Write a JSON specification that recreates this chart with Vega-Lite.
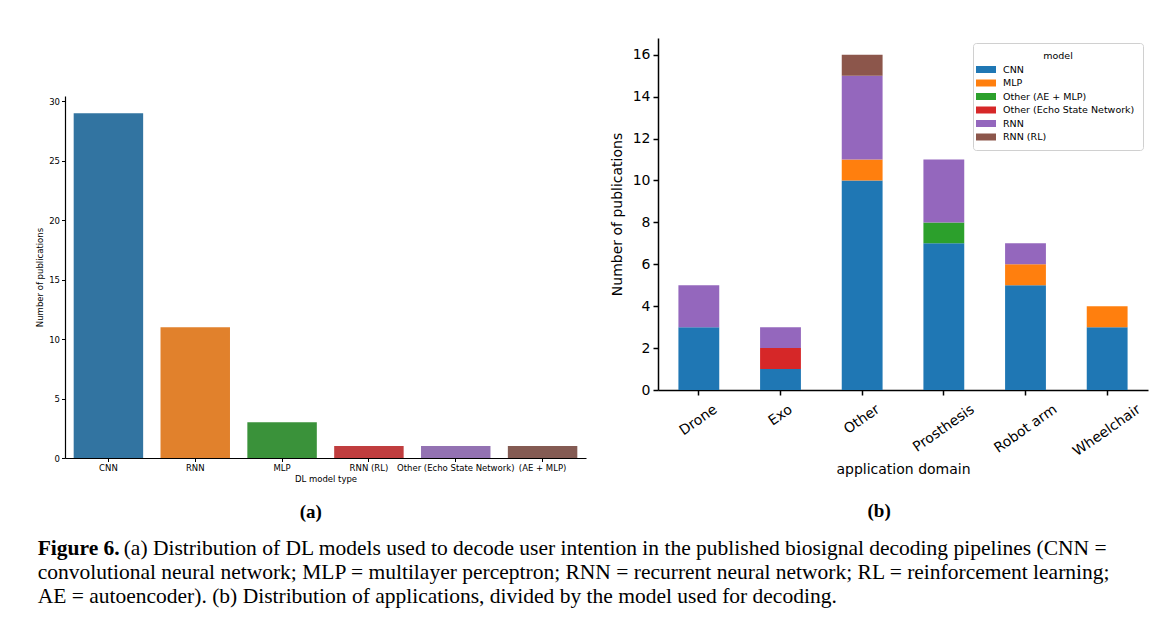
{
  "$schema": "https://vega.github.io/schema/vega-lite/v6.json",
  "background": "white",
  "padding": {"left": 35, "top": 38, "right": 5, "bottom": 5},
  "title": {
    "text": "Figure 6.",
    "subtitle": [
      "\u200b\u00a0\u00a0\u00a0\u00a0\u00a0\u00a0\u00a0\u00a0\u00a0\u00a0\u00a0\u00a0\u00a0\u00a0\u00a0\u00a0(a) Distribution of DL models used to decode user intention in the published biosignal decoding pipelines (CNN =",
      "convolutional neural network; MLP = multilayer perceptron; RNN = recurrent neural network; RL = reinforcement learning;",
      "AE = autoencoder). (b) Distribution of applications, divided by the model used for decoding."
    ],
    "orient": "bottom",
    "anchor": "start",
    "frame": "bounds",
    "font": "Liberation Serif",
    "fontSize": 21.5,
    "fontWeight": "bold",
    "color": "black",
    "subtitleFont": "Liberation Serif",
    "subtitleFontSize": 21.5,
    "subtitleFontWeight": "normal",
    "subtitleColor": "black",
    "subtitleLineHeight": 24,
    "subtitlePadding": -21.5,
    "offset": 16,
    "dx": 2
  },
  "spacing": 24,
  "resolve": {"scale": {"color": "independent"}, "legend": {"color": "independent"}},
  "hconcat": [
    {
      "title": {"text": "(a)", "orient": "bottom", "anchor": "middle", "frame": "bounds", "font": "Liberation Serif", "fontSize": 19, "fontWeight": "bold", "color": "black", "offset": 20},
      "spacing": 0,
      "vconcat": [
        {
          "width": 521,
          "height": 58,
          "data": {"values": []},
          "mark": {"type": "point", "opacity": 0}
        },
        {
          "width": 521,
          "height": 362,
          "data": {"values": [
            {"model": "CNN", "count": 29},
            {"model": "RNN", "count": 11},
            {"model": "MLP", "count": 3},
            {"model": "RNN (RL)", "count": 1},
            {"model": "Other (Echo State Network)", "count": 1},
            {"model": "(AE + MLP)", "count": 1}
          ]},
          "mark": {"type": "bar"},
          "encoding": {
            "x": {
              "field": "model", "type": "nominal", "sort": null,
              "scale": {"paddingInner": 0.2, "paddingOuter": 0.1},
              "axis": {"title": "DL model type", "labelAngle": 0, "labelFontSize": 8.5, "titleFontSize": 8.5, "labelOverlap": false, "labelBound": false, "labelLimit": 0, "tickSize": 3.5, "tickWidth": 1, "domainWidth": 1.2, "labelPadding": 2, "titlePadding": 2}
            },
            "y": {
              "field": "count", "type": "quantitative",
              "scale": {"domain": [0, 30.45], "nice": false},
              "axis": {"title": "Number of publications", "values": [0, 5, 10, 15, 20, 25, 30], "labelFontSize": 8.5, "titleFontSize": 8.5, "tickSize": 3.5, "tickWidth": 1, "domainWidth": 1.2, "labelPadding": 2, "titlePadding": 4}
            },
            "color": {
              "field": "model", "type": "nominal", "sort": null,
              "scale": {"domain": ["CNN", "RNN", "MLP", "RNN (RL)", "Other (Echo State Network)", "(AE + MLP)"],
                        "range": ["#3274a1", "#e1812c", "#3a923a", "#c03d3e", "#9372b2", "#845b53"]},
              "legend": null
            }
          }
        }
      ]
    },
    {
      "title": {"text": "(b)", "orient": "bottom", "anchor": "middle", "frame": "bounds", "font": "Liberation Serif", "fontSize": 19, "fontWeight": "bold", "color": "black", "offset": 25},
      "width": 490,
      "height": 352,
      "data": {"values": [
        {"domain": "Drone", "model": "CNN", "count": 3},
        {"domain": "Drone", "model": "RNN", "count": 2},
        {"domain": "Exo", "model": "CNN", "count": 1},
        {"domain": "Exo", "model": "Other (Echo State Network)", "count": 1},
        {"domain": "Exo", "model": "RNN", "count": 1},
        {"domain": "Other", "model": "CNN", "count": 10},
        {"domain": "Other", "model": "MLP", "count": 1},
        {"domain": "Other", "model": "RNN", "count": 4},
        {"domain": "Other", "model": "RNN (RL)", "count": 1},
        {"domain": "Prosthesis", "model": "CNN", "count": 7},
        {"domain": "Prosthesis", "model": "Other (AE + MLP)", "count": 1},
        {"domain": "Prosthesis", "model": "RNN", "count": 3},
        {"domain": "Robot arm", "model": "CNN", "count": 5},
        {"domain": "Robot arm", "model": "MLP", "count": 1},
        {"domain": "Robot arm", "model": "RNN", "count": 1},
        {"domain": "Wheelchair", "model": "CNN", "count": 3},
        {"domain": "Wheelchair", "model": "MLP", "count": 1}
      ]},
      "mark": {"type": "bar"},
      "encoding": {
        "x": {
          "field": "domain", "type": "nominal",
          "scale": {"paddingInner": 0.5, "paddingOuter": 0.25},
          "axis": {
            "title": "application domain", "labelAngle": -35, "labelAlign": "right", "labelBaseline": "top",
            "labelFontSize": 14, "titleFontSize": 14, "tickSize": 5, "tickWidth": 1.5, "domainWidth": 1.5,
            "labelPadding": 7, "titlePadding": 4, "labelOverlap": false, "labelBound": false,
            "labelOffset": {"condition": [
              {"test": "datum.value === 'Drone'", "value": 13},
              {"test": "datum.value === 'Exo'", "value": 6.5},
              {"test": "datum.value === 'Other'", "value": 12},
              {"test": "datum.value === 'Prosthesis'", "value": 25},
              {"test": "datum.value === 'Robot arm'", "value": 26}
            ], "value": 28}
          }
        },
        "y": {
          "field": "count", "type": "quantitative", "stack": "zero",
          "scale": {"domain": [0, 16.8], "nice": false},
          "axis": {"title": "Number of publications", "values": [0, 2, 4, 6, 8, 10, 12, 14, 16], "labelFontSize": 14, "titleFontSize": 14, "tickSize": 5, "tickWidth": 1.5, "domainWidth": 1.5, "labelPadding": 3, "titlePadding": 8}
        },
        "color": {
          "field": "model", "type": "nominal",
          "scale": {"domain": ["CNN", "MLP", "Other (AE + MLP)", "Other (Echo State Network)", "RNN", "RNN (RL)"],
                    "range": ["#1f77b4", "#ff7f0e", "#2ca02c", "#d62728", "#9467bd", "#8c564b"]},
          "legend": {
            "title": "model", "orient": "top-right", "offset": 5,
            "titleAnchor": "middle", "titleFontSize": 9.5, "titleFontWeight": "normal", "titleFont": "DejaVu Sans", "titleColor": "black", "titlePadding": 4,
            "labelFontSize": 9.5, "labelFont": "DejaVu Sans", "labelColor": "black", "labelOffset": 12,
            "symbolType": "M-2,-0.7L2,-0.7L2,0.7L-2,0.7Z", "symbolSize": 100, "symbolStrokeWidth": 0, "symbolOpacity": 1,
            "rowPadding": 3.5, "padding": 8,
            "strokeColor": "#d0d0d0", "fillColor": "white", "cornerRadius": 3
          }
        },
        "order": {"field": "model", "sort": "ascending"}
      }
    }
  ],
  "config": {
    "font": "DejaVu Sans",
    "view": {"stroke": null},
    "axis": {"grid": false, "domainColor": "black", "tickColor": "black", "labelColor": "black", "titleColor": "black", "labelFont": "DejaVu Sans", "titleFont": "DejaVu Sans", "titleFontWeight": "normal"}
  }
}
